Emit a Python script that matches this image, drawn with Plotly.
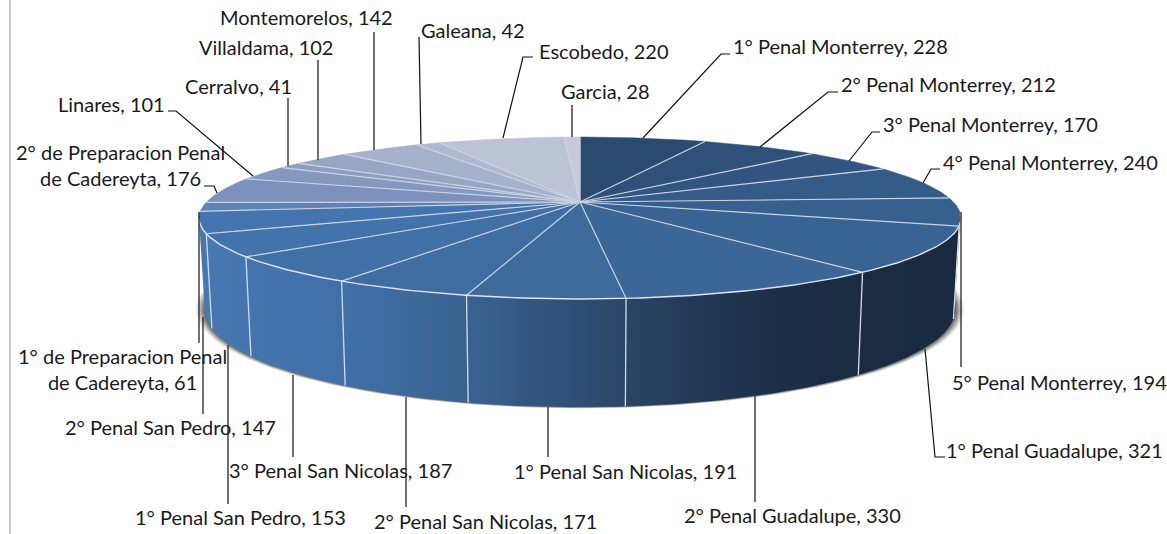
import numpy as np
import plotly.graph_objects as go

# ---- data ----
categories = ["1° Penal Monterrey", "2° Penal Monterrey", "3° Penal Monterrey", "4° Penal Monterrey",
              "5° Penal Monterrey", "1° Penal Guadalupe", "2° Penal Guadalupe", "1° Penal San Nicolas",
              "2° Penal San Nicolas", "3° Penal San Nicolas", "1° Penal San Pedro", "2° Penal San Pedro",
              "1° de Preparacion Penal de Cadereyta", "2° de Preparacion Penal de Cadereyta", "Linares",
              "Cerralvo", "Villaldama", "Montemorelos", "Galeana", "Escobedo", "Garcia"]
values = [228, 212, 170, 240, 194, 321, 330, 191, 171, 187, 153, 147, 61, 176, 101, 41, 102, 142, 42, 220, 28]

# ---- styles ----
slice_colors = ["#2A4A70", "#2E5079", "#315580", "#345A87", "#37608F", "#396393", "#3B6697",
                "#3E6A9C", "#3F6DA1", "#4170A6", "#4273AB", "#4475AE", "#5F82B4", "#7C91BC",
                "#8698BF", "#8E9EC2", "#98A6C6", "#A6B1CB", "#B0B9D0", "#BBC3D5", "#C6CBD9"]
wall_scale = [[0, "#4878B2"], [0.19, "#4070A8"], [0.353, "#3A6290"], [0.45, "#32547E"],
              [0.56, "#2A4666"], [0.68, "#203550"], [0.80, "#1B2D44"], [1, "#192A3E"]]
edge = "#D3DBE7"

# ---- projection of the tilted disc ----
CX, CY, A, B, K, H = 580, 202, 373.5, 77.8, 0.1975, 88


def warp(t):
    return t - np.radians(2.2) * np.sin(t / 2)


def top(t):
    t = warp(t)
    X, Y = np.sin(t), np.cos(t)
    w = 1 + K * Y
    return CX + A * X / w, CY - B * Y / w


def bottom(t, grow=0.0, s=0.985):
    t = warp(t)
    X, Y = np.sin(t), np.cos(t)
    w = 1 + K * Y
    return CX + (s * A + grow) * X / w, CY + (H - (s * B + grow * 0.12) * Y) / w


def line_trace(x, y, color=edge, width=1.3):
    return go.Scatter(x=x, y=y, mode="lines", line=dict(color=color, width=width),
                      hoverinfo="skip", showlegend=False)


fig = go.Figure()
total = sum(values)
bounds = np.cumsum([0] + values) / total * 2 * np.pi

# soft shadow under the disc
for grow, alpha in [(9, .05), (8, .07), (7, .09), (6, .11), (5, .13), (4, .16), (3, .2), (2, .24), (1, .28)]:
    tt = np.linspace(np.radians(90), np.radians(270), 200)
    x, y = bottom(tt, grow)
    fig.add_trace(go.Scatter(x=x, y=y, mode="lines", fill="toself", line=dict(width=0),
                             fillcolor=f"rgba(70,70,70,{alpha})", hoverinfo="skip", showlegend=False))

# outer wall
lo, hi = np.radians(100), np.radians(260)
for i, name in enumerate(categories):
    a, b = max(bounds[i], lo), min(bounds[i + 1], hi)
    if b <= a:
        continue
    tt = np.linspace(a, b, 60)
    xt, yt = top(tt)
    xb, yb = bottom(tt[::-1])
    fig.add_trace(go.Scatter(x=np.r_[xt, xb, xt[0]], y=np.r_[yt, yb, yt[0]], mode="lines", fill="toself",
                             line=dict(width=0),
                             fillgradient=dict(type="horizontal", colorscale=wall_scale, start=199, stop=961),
                             hoverinfo="skip", showlegend=False))
for bd in bounds:
    if lo <= bd <= hi:
        x0, y0 = top(bd)
        x1, y1 = bottom(bd)
        fig.add_trace(line_trace([x0, x1], [y0, y1]))

# top face
for i, name in enumerate(categories):
    tt = np.linspace(bounds[i], bounds[i + 1], max(8, int(values[i] / 3)))
    x, y = top(tt)
    fig.add_trace(go.Scatter(x=np.r_[CX, x, CX], y=np.r_[CY, y, CY], mode="lines", fill="toself",
                             fillcolor=slice_colors[i], line=dict(color=slice_colors[i], width=0.5),
                             name=name, text=f"{name}, {values[i]}", hoverinfo="text", showlegend=False))
for bd in bounds[:-1]:
    x1, y1 = top(bd)
    fig.add_trace(line_trace([CX, x1], [CY, y1], color="#C9D3E2", width=1.2))
x, y = top(np.linspace(lo, hi, 200))
fig.add_trace(line_trace(x, y, color="#DDE3EC", width=1.4))

# data labels: category, value -> centre of text
label_pos = [(840, 46), (948, 84), (990, 124), (1050, 162), (1059, 382), (1054, 450), (792, 515),
             (625, 471), (485, 521), (340, 470), (240, 517), (170, 427), (122, 369), (120, 165),
             (111, 104), (238, 86), (266, 47), (306, 17), (473, 30), (604, 51), (605, 91)]
wrap = {12: "1° de Preparacion Penal<br>de Cadereyta", 13: "2° de Preparacion Penal<br>de Cadereyta"}
annotations = []
for i, (lx, ly) in enumerate(label_pos):
    annotations.append(dict(x=lx, y=ly, xref="x", yref="y", showarrow=False, xanchor="center", yanchor="middle",
                            text=f"{wrap.get(i, categories[i])}, {values[i]}",
                            font=dict(family="Lato", size=20, color="#1A1A1A")))

leaders = ["M730,54 L721,54 L643,138", "M838,92 L828,92 L760,147", "M880,132 L872,132 L849,161",
           "M940,169 L931,169 L923,183", "M961,212 L961,367", "M945,457 L935,457 L925,349",
           "M755,396 L755,502", "M548,407 L548,457", "M406,397 L406,507", "M293,375 L293,457",
           "M228,345 L228,504", "M203,317 L203,414", "M199,212 L199,343", "M204,186 L214,186 L217,193",
           "M168,111 L176,111 L253,176", "M288,98 L288,166", "M318,60 L318,160", "M374,32 L374,150",
           "M419,37 L421,144", "M533,57 L523,57 L503,138", "M572,105 L572,137"]
shapes = [dict(type="path", path=p, xref="x", yref="y", line=dict(color="#111111", width=1.2)) for p in leaders]
shapes.append(dict(type="line", xref="x", yref="y", x0=10, x1=10, y0=0, y1=534,
                   line=dict(color="#A6A6A6", width=1.3)))

fig.update_layout(width=1167, height=534, margin=dict(l=0, r=0, t=0, b=0),
                  paper_bgcolor="white", plot_bgcolor="white", showlegend=False,
                  annotations=annotations, shapes=shapes,
                  xaxis=dict(range=[0, 1167], visible=False, fixedrange=True),
                  yaxis=dict(range=[534, 0], visible=False, fixedrange=True))
fig.write_html("out.html", config=dict(displayModeBar=False),
               post_script="document.body.style.margin='0';document.body.style.overflow='hidden';")
